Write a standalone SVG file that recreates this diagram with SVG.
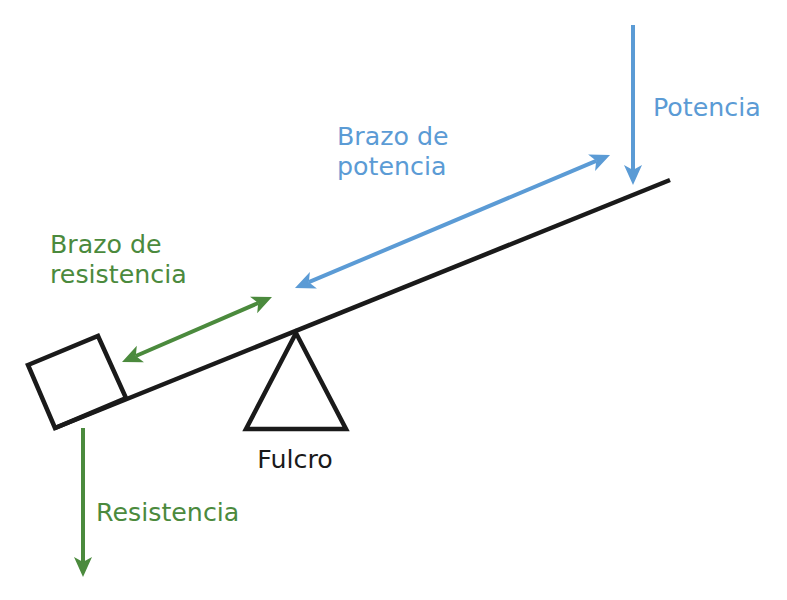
<svg xmlns="http://www.w3.org/2000/svg" width="787" height="600" viewBox="0 0 787 600">
  <style>
    .t { font-family: "DejaVu Sans", Verdana, sans-serif; font-size: 25.3px; }
    .blue { fill: #5b9bd5; }
    .green { fill: #4b8a3d; }
    .black { fill: #1a1a1a; }
    .shape { fill: none; stroke: #1a1a1a; stroke-width: 4.5; stroke-linejoin: miter; }
    .ab { stroke: #5b9bd5; stroke-width: 4; fill: none; }
    .ag { stroke: #4b8a3d; stroke-width: 4; fill: none; }
  </style>
  <defs>
    <marker id="hb" viewBox="0 -10 22 20" refX="5" refY="0" markerWidth="22" markerHeight="20" markerUnits="userSpaceOnUse" orient="auto-start-reverse">
      <path d="M20,0 L0,-9 L5,0 L0,9 Z" fill="#5b9bd5"/>
    </marker>
    <marker id="hg" viewBox="0 -10 22 20" refX="5" refY="0" markerWidth="22" markerHeight="20" markerUnits="userSpaceOnUse" orient="auto-start-reverse">
      <path d="M20,0 L0,-9 L5,0 L0,9 Z" fill="#4b8a3d"/>
    </marker>
  </defs>
  <rect width="787" height="600" fill="#ffffff"/>

  <g id="lever">
    <line x1="55" y1="428" x2="670" y2="180" class="shape"/>
  </g>
  <g id="load">
    <polygon points="28,365 98,336 126,398 55,428" class="shape"/>
  </g>
  <g id="fulcrum">
    <polygon points="296,333 246,429 346,429" class="shape"/>
    <text x="295" y="468" text-anchor="middle" class="t black">Fulcro</text>
  </g>

  <g id="connectors">
    <line x1="633" y1="25" x2="633" y2="170" class="ab" marker-end="url(#hb)"/>
    <line x1="83" y1="428" x2="83" y2="562" class="ag" marker-end="url(#hg)"/>
    <line x1="308.8" y1="282.2" x2="596.2" y2="160.8" class="ab" marker-start="url(#hb)" marker-end="url(#hb)"/>
    <line x1="135.8" y1="356" x2="258.2" y2="303" class="ag" marker-start="url(#hg)" marker-end="url(#hg)"/>
  </g>

  <g id="label-potencia">
    <text x="653" y="116" class="t blue">Potencia</text>
  </g>
  <g id="label-brazo-potencia">
    <text x="337" y="145" class="t blue">Brazo de</text>
    <text x="337" y="175" class="t blue">potencia</text>
  </g>
  <g id="label-brazo-resistencia">
    <text x="50" y="253" class="t green">Brazo de</text>
    <text x="50" y="283" class="t green">resistencia</text>
  </g>
  <g id="label-resistencia">
    <text x="96" y="521" class="t green">Resistencia</text>
  </g>
</svg>
